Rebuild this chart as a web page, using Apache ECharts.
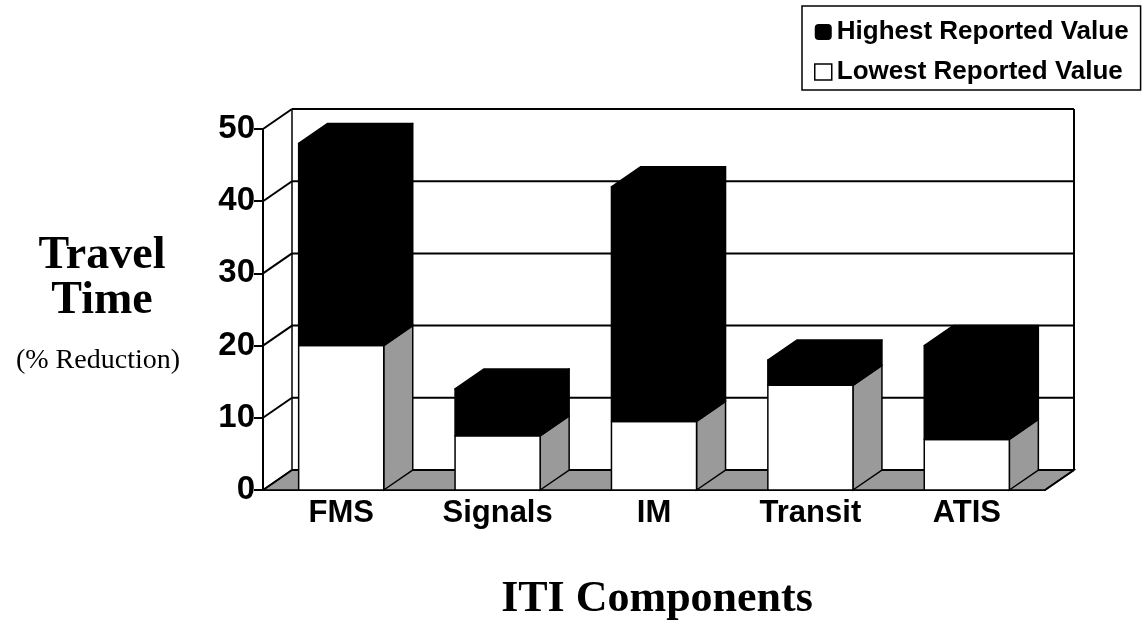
<!DOCTYPE html>
<html>
<head>
<meta charset="utf-8">
<script src="https://cdn.jsdelivr.net/npm/echarts@6/dist/echarts.min.js"></script>
<style>
  html, body { margin: 0; padding: 0; background: #fff; }
  #chart { width: 1145px; height: 630px; }
</style>
</head>
<body>
<div id="chart"></div>
<script>
// data
var categories = ['FMS', 'Signals', 'IM', 'Transit', 'ATIS']
var lowestValues = [20, 7.5, 9.5, 14.5, 7]
var highestValues = [48, 14, 42, 18, 20]
var yTicks = [0, 10, 20, 30, 40, 50]

// fake 3d depth
var DX = 29
var DY = -20
var BAR_FRAC = 0.272 // half bar width, as part of one category
var FLOOR = '#9a9a9a'

function wallItem(params, api) {
  var cs = params.coordSys
  var v = api.value(1)
  var y = api.coord([0, v])[1]
  var yFloor = api.coord([0, 0])[1]
  var x0 = cs.x
  var x1 = cs.x + cs.width
  var line = { stroke: '#000', lineWidth: 2 }
  var children = []
  if (v === 0) {
    children.push({
      type: 'polygon',
      shape: { points: [[x0, y], [x0 + DX, y + DY], [x1 + DX, y + DY], [x1, y]] },
      style: { fill: FLOOR, stroke: '#000', lineWidth: 1.5 }
    })
  }
  children.push({ type: 'line', shape: { x1: x0, y1: y, x2: x0 + DX, y2: y + DY }, style: line })
  children.push({ type: 'line', shape: { x1: x0 + DX, y1: y + DY, x2: x1 + DX, y2: y + DY }, style: line })
  if (v === yTicks[yTicks.length - 1]) {
    children.push({ type: 'line', shape: { x1: x0 + DX, y1: y + DY, x2: x0 + DX, y2: yFloor + DY }, style: { stroke: '#000', lineWidth: 1.5 } })
    children.push({ type: 'line', shape: { x1: x1 + DX, y1: y + DY, x2: x1 + DX, y2: yFloor + DY }, style: line })
    children.push({ type: 'line', shape: { x1: x1, y1: yFloor, x2: x1 + DX, y2: yFloor + DY }, style: line })
  }
  return { type: 'group', children: children }
}

function lowItem(params, api) {
  var i = api.value(0)
  var p0 = api.coord([i, 0])
  var p1 = api.coord([i, api.value(1)])
  var hw = api.size([1, 0])[0] * BAR_FRAC
  var xl = p0[0] - hw
  var xr = p0[0] + hw
  return {
    type: 'group',
    children: [{
      type: 'polygon',
      shape: { points: [[xr, p0[1]], [xr + DX, p0[1] + DY], [xr + DX, p1[1] + DY], [xr, p1[1]]] },
      style: { fill: FLOOR, stroke: '#000', lineWidth: 1.5 }
    }, {
      type: 'rect',
      shape: { x: xl, y: p1[1], width: xr - xl, height: p0[1] - p1[1] },
      style: { fill: '#fff', stroke: '#000', lineWidth: 1.5 }
    }]
  }
}

function highItem(params, api) {
  var i = api.value(0)
  var pl = api.coord([i, api.value(2)])
  var ph = api.coord([i, api.value(1)])
  var hw = api.size([1, 0])[0] * BAR_FRAC
  var xl = pl[0] - hw
  var xr = pl[0] + hw
  var st = { fill: '#000', stroke: '#000', lineWidth: 1.5, lineJoin: 'round' }
  return {
    type: 'group',
    children: [{
      type: 'polygon',
      shape: { points: [[xr, pl[1]], [xr + DX, pl[1] + DY], [xr + DX, ph[1] + DY], [xr, ph[1]]] },
      style: st
    }, {
      type: 'polygon',
      shape: { points: [[xl, ph[1]], [xl + DX, ph[1] + DY], [xr + DX, ph[1] + DY], [xr, ph[1]]] },
      style: st
    }, {
      type: 'rect',
      shape: { x: xl, y: ph[1], width: xr - xl, height: pl[1] - ph[1] },
      style: st
    }]
  }
}

var chart = echarts.init(document.getElementById('chart'))
chart.setOption({
  animation: false,
  backgroundColor: '#fff',
  grid: { left: 263, right: 100, top: 129, bottom: 140 },
  legend: {
    orient: 'vertical',
    left: 802,
    top: 6,
    padding: [13, 12, 5, 12],
    itemGap: 14,
    itemWidth: 17,
    itemHeight: 16,
    borderColor: '#000',
    borderWidth: 1.5,
    textStyle: { fontFamily: 'Liberation Sans', fontWeight: 'bold', fontSize: 26, color: '#000' },
    data: [
      { name: 'Highest Reported Value', icon: 'roundRect', itemStyle: { color: '#000' } },
      { name: 'Lowest Reported Value', icon: 'rect', itemStyle: { color: '#fff', borderColor: '#000', borderWidth: 1.5 } }
    ]
  },
  xAxis: {
    type: 'category',
    data: categories,
    axisLine: { lineStyle: { color: '#000', width: 2 } },
    axisTick: { length: 14, lineStyle: { color: '#000', width: 2 } },
    axisLabel: { margin: 8, color: '#000', fontFamily: 'Liberation Sans', fontWeight: 'bold', fontSize: 31 }
  },
  yAxis: {
    type: 'value',
    min: 0,
    max: 50,
    interval: 10,
    axisLine: { show: true, lineStyle: { color: '#000', width: 2 } },
    axisTick: { show: true, length: 9, lineStyle: { color: '#000', width: 2 } },
    axisLabel: { margin: 8, color: '#000', fontFamily: 'Liberation Sans', fontWeight: 'bold', fontSize: 33 },
    splitLine: { show: false }
  },
  graphic: [
    { type: 'text', x: 102, y: 256, style: { text: 'Travel', textAlign: 'center', textVerticalAlign: 'middle', font: 'bold 46px "Liberation Serif"', fill: '#000' } },
    { type: 'text', x: 102, y: 301, style: { text: 'Time', textAlign: 'center', textVerticalAlign: 'middle', font: 'bold 46px "Liberation Serif"', fill: '#000' } },
    { type: 'text', x: 98, y: 361, style: { text: '(% Reduction)', textAlign: 'center', textVerticalAlign: 'middle', font: '28px "Liberation Serif"', fill: '#000' } },
    { type: 'text', x: 657, y: 600, style: { text: 'ITI Components', textAlign: 'center', textVerticalAlign: 'middle', font: 'bold 44px "Liberation Serif"', fill: '#000' } }
  ],
  series: [{
    name: 'wall',
    type: 'custom',
    z: 1,
    renderItem: wallItem,
    data: yTicks.map(function(v) { return [0, v] })
  }, {
    name: 'Lowest Reported Value',
    type: 'custom',
    z: 3,
    itemStyle: { color: '#fff', borderColor: '#000' },
    renderItem: lowItem,
    data: lowestValues.map(function(v, i) { return [i, v] })
  }, {
    name: 'Highest Reported Value',
    type: 'custom',
    z: 3,
    itemStyle: { color: '#000' },
    renderItem: highItem,
    data: highestValues.map(function(v, i) { return [i, v, lowestValues[i]] })
  }]
})
</script>
</body>
</html>
